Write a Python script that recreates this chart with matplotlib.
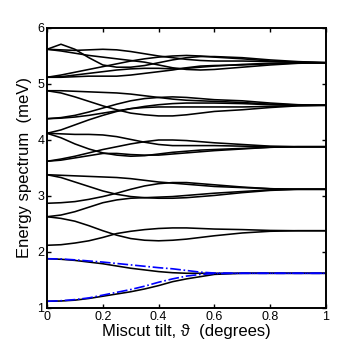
import matplotlib
matplotlib.use("Agg")
import matplotlib.pyplot as plt

plt.rcParams['font.family'] = ['Liberation Sans', 'DejaVu Sans']

# miscut tilt samples (degrees)
tilt = [0, 0.05, 0.1, 0.15, 0.2, 0.25, 0.3, 0.35, 0.4, 0.45, 0.5, 0.55, 0.6,
        0.7, 0.8, 0.9, 1.0]

# energy levels (meV), grouped by the shell they merge into at large tilt
shell0 = [
    [1.12, 1.125, 1.14, 1.17, 1.21, 1.25, 1.29, 1.34, 1.40, 1.47, 1.52, 1.56, 1.60, 1.62, 1.62, 1.62, 1.62],
    [1.88, 1.87, 1.85, 1.82, 1.79, 1.75, 1.71, 1.68, 1.65, 1.63, 1.62, 1.62, 1.62, 1.62, 1.62, 1.62, 1.62],
]
shell1 = [
    [2.63, 2.60, 2.55, 2.47, 2.38, 2.30, 2.24, 2.21, 2.20, 2.21, 2.23, 2.26, 2.29, 2.34, 2.37, 2.38, 2.38],
    [2.12, 2.13, 2.16, 2.20, 2.26, 2.33, 2.37, 2.40, 2.42, 2.43, 2.43, 2.42, 2.41, 2.40, 2.385, 2.38, 2.38],
]
shell2 = [
    [3.38, 3.37, 3.36, 3.35, 3.34, 3.33, 3.31, 3.28, 3.25, 3.23, 3.21, 3.19, 3.17, 3.15, 3.13, 3.12, 3.12],
    [3.38, 3.33, 3.25, 3.17, 3.09, 3.03, 2.99, 2.97, 2.96, 2.96, 2.97, 2.99, 3.01, 3.06, 3.10, 3.12, 3.12],
    [2.87, 2.88, 2.90, 2.94, 2.99, 3.05, 3.12, 3.18, 3.22, 3.24, 3.24, 3.22, 3.20, 3.16, 3.13, 3.12, 3.12],
    [2.63, 2.66, 2.72, 2.80, 2.88, 2.93, 2.96, 2.97, 2.98, 2.99, 3.01, 3.03, 3.05, 3.08, 3.11, 3.12, 3.12],
]
shell3 = [
    [4.12, 4.11, 4.10, 4.10, 4.09, 4.06, 4.01, 3.96, 3.92, 3.90, 3.90, 3.90, 3.90, 3.89, 3.88, 3.88, 3.88],
    [4.12, 4.04, 3.93, 3.84, 3.77, 3.73, 3.71, 3.72, 3.75, 3.78, 3.80, 3.82, 3.83, 3.85, 3.87, 3.88, 3.88],
    [3.62, 3.66, 3.71, 3.77, 3.83, 3.88, 3.93, 3.97, 4.00, 4.00, 3.99, 3.97, 3.95, 3.92, 3.89, 3.88, 3.88],
    [3.62, 3.64, 3.68, 3.72, 3.76, 3.76, 3.74, 3.73, 3.73, 3.75, 3.77, 3.79, 3.81, 3.84, 3.87, 3.88, 3.88],
]
shell4 = [
    [4.88, 4.88, 4.87, 4.86, 4.85, 4.84, 4.82, 4.79, 4.76, 4.73, 4.71, 4.70, 4.69, 4.67, 4.64, 4.625, 4.62],
    [4.88, 4.84, 4.77, 4.69, 4.61, 4.54, 4.48, 4.45, 4.43, 4.43, 4.45, 4.48, 4.51, 4.54, 4.58, 4.61, 4.62],
    [4.38, 4.40, 4.44, 4.50, 4.57, 4.64, 4.70, 4.74, 4.76, 4.77, 4.76, 4.74, 4.72, 4.70, 4.66, 4.63, 4.62],
    [4.38, 4.39, 4.41, 4.44, 4.48, 4.52, 4.56, 4.60, 4.63, 4.65, 4.66, 4.66, 4.66, 4.65, 4.63, 4.62, 4.62],
    [4.12, 4.18, 4.27, 4.36, 4.44, 4.51, 4.56, 4.58, 4.59, 4.59, 4.59, 4.59, 4.59, 4.59, 4.60, 4.615, 4.62],
]
shell5 = [
    [5.62, 5.71, 5.62, 5.47, 5.34, 5.30, 5.30, 5.33, 5.38, 5.43, 5.47, 5.49, 5.49, 5.47, 5.43, 5.40, 5.38],
    [5.62, 5.61, 5.60, 5.61, 5.62, 5.61, 5.58, 5.54, 5.50, 5.47, 5.44, 5.42, 5.41, 5.41, 5.40, 5.39, 5.38],
    [5.62, 5.59, 5.55, 5.51, 5.48, 5.45, 5.42, 5.39, 5.34, 5.29, 5.26, 5.25, 5.26, 5.30, 5.34, 5.37, 5.38],
    [5.12, 5.16, 5.21, 5.26, 5.31, 5.36, 5.41, 5.45, 5.48, 5.50, 5.51, 5.50, 5.48, 5.45, 5.41, 5.39, 5.38],
    [5.12, 5.13, 5.16, 5.19, 5.22, 5.25, 5.27, 5.28, 5.28, 5.27, 5.28, 5.30, 5.32, 5.35, 5.37, 5.38, 5.38],
    [5.12, 5.12, 5.13, 5.14, 5.14, 5.14, 5.16, 5.19, 5.22, 5.25, 5.29, 5.32, 5.33, 5.34, 5.36, 5.375, 5.38],
]

# approximate two-level model (blue dash-dot)
model_low = [1.12, 1.13, 1.15, 1.18, 1.23, 1.28, 1.33, 1.39, 1.46, 1.52, 1.57, 1.60, 1.615, 1.62, 1.62, 1.62, 1.62]
model_high = [1.88, 1.875, 1.86, 1.84, 1.82, 1.795, 1.77, 1.745, 1.72, 1.70, 1.67, 1.64, 1.625, 1.62, 1.62, 1.62, 1.62]

x_ticks = [0, 0.2, 0.4, 0.6, 0.8, 1]
x_ticklabels = ["0", "0.2", "0.4", "0.6", "0.8", "1"]
y_ticks = [1, 2, 3, 4, 5, 6]

fig = plt.figure(figsize=(3.6, 3.5), dpi=100)
ax = fig.add_axes([0.1306, 0.12, 0.775, 0.80])

for shell in (shell0, shell1, shell2, shell3, shell4, shell5):
    for level in shell:
        ax.plot(tilt, level, color="black", lw=1.15, solid_capstyle="round")

ax.plot(tilt, model_high, color="blue", lw=1.2, ls="-.")
ax.plot(tilt, model_low, color="blue", lw=1.2, ls="-.")

ax.set_xlim(0, 1)
ax.set_ylim(1, 6)
ax.set_xticks(x_ticks)
ax.set_xticklabels(x_ticklabels)
ax.set_yticks(y_ticks)
ax.tick_params(direction="in", top=True, right=True, length=3, width=1,
               labelsize=9, pad=2)
for s in ax.spines.values():
    s.set_linewidth(1.4)

ax.set_xlabel("Miscut tilt, \u03d1  (degrees)", fontsize=12, labelpad=1)
ax.set_ylabel("Energy spectrum  (meV)", fontsize=12, labelpad=4)

fig.savefig("out.png", dpi=100)
